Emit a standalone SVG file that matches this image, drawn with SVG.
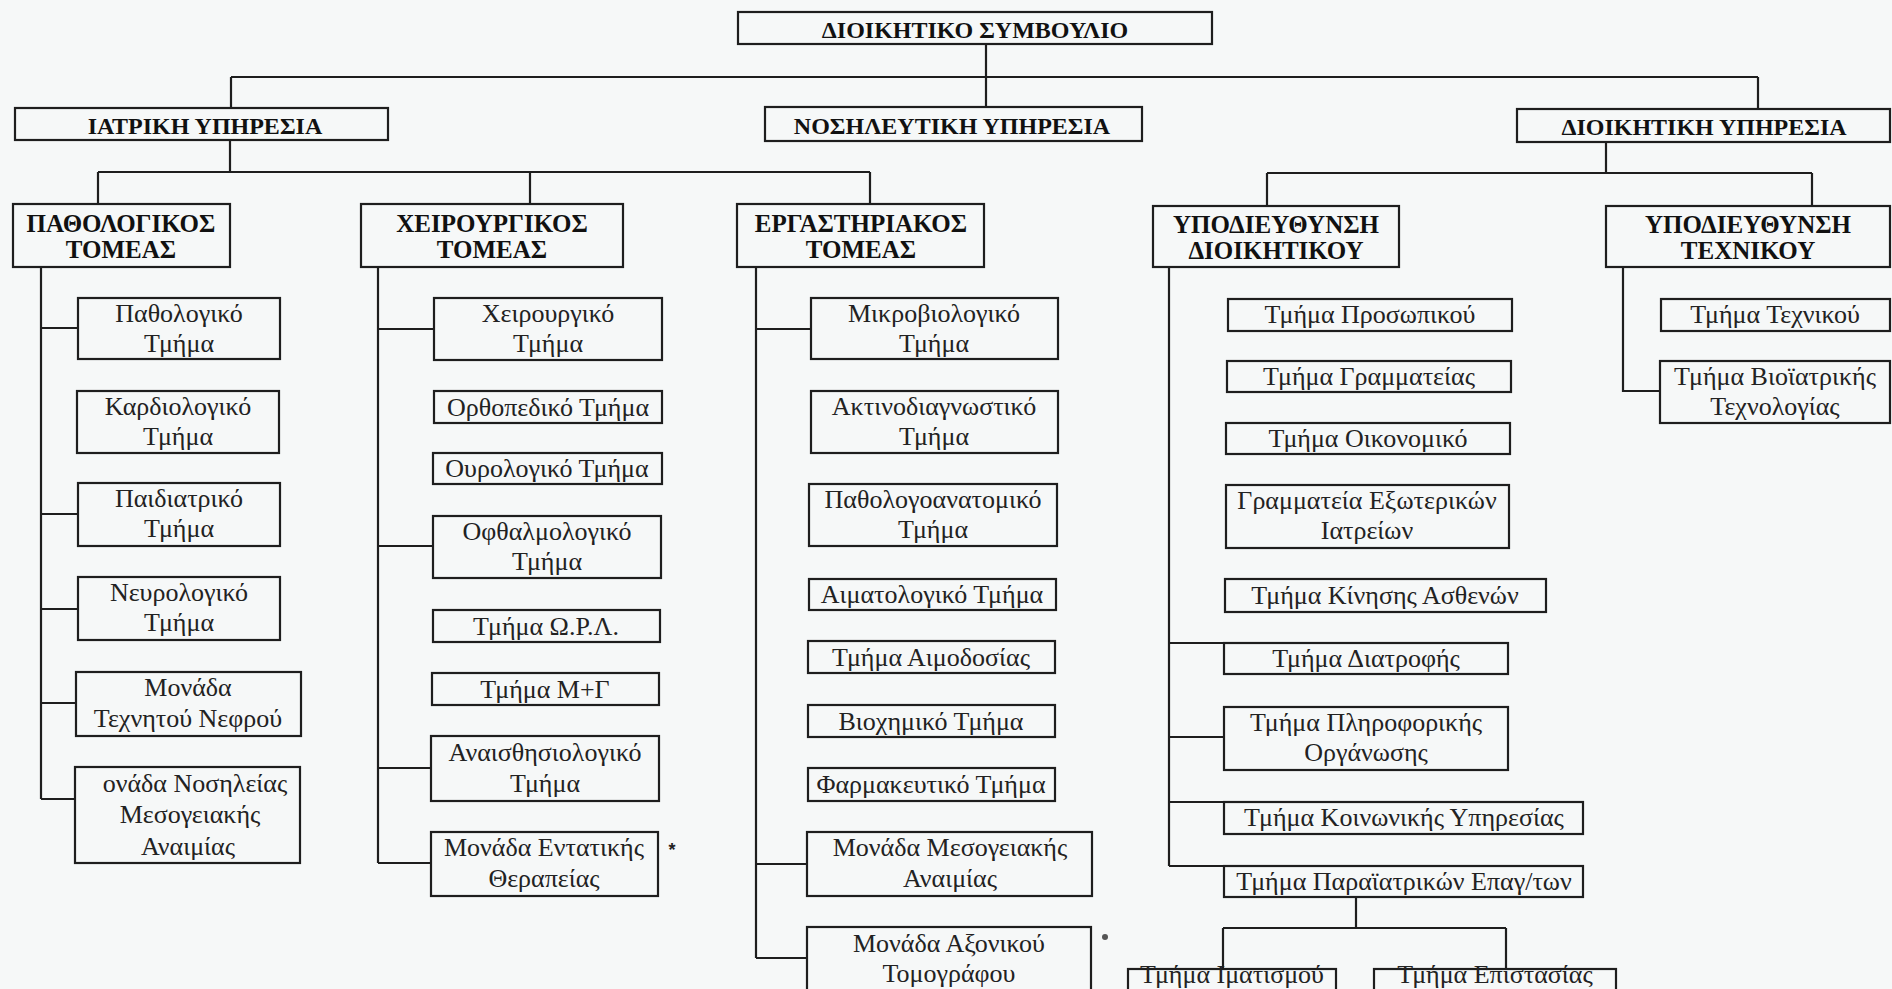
<svg xmlns="http://www.w3.org/2000/svg" width="1892" height="989" viewBox="0 0 1892 989">
<style>
.bg{fill:#f6f8f8}
.box{fill:none;stroke:#1e1e1e;stroke-width:2.2}
.ln{fill:none;stroke:#1e1e1e;stroke-width:2.2}
.h1{font-family:"Liberation Serif","DejaVu Serif",serif;font-weight:bold;font-size:24px;fill:#111;text-anchor:middle}
.h2{font-family:"Liberation Serif","DejaVu Serif",serif;font-weight:bold;font-size:25px;fill:#111;text-anchor:middle}
.t{font-family:"Liberation Serif","DejaVu Serif",serif;font-size:26px;fill:#222;text-anchor:middle}
</style>
<rect class="bg" x="0" y="0" width="1892" height="989"/>

<g id="connectors">
<path class="ln" d="M986,44V107 M231,77H1758 M231,77V108 M1758,77V109"/>
<path class="ln" d="M230,140V172 M98,172H870 M98,172V204 M530,172V204 M870,172V204"/>
<path class="ln" d="M1606,142V173 M1267,173H1812 M1267,173V206 M1812,173V206"/>
<path class="ln" d="M41,267V799 M41,328H78 M41,514H78 M41,609H78 M41,703H76 M41,799H75"/>
<path class="ln" d="M378,267V863 M378,329H434 M378,546H433 M378,768H431 M378,863H431"/>
<path class="ln" d="M756,267V958 M756,329H811 M756,864H807 M756,958H807"/>
<path class="ln" d="M1169,267V866 M1169,643H1224 M1169,737H1224 M1169,802H1224 M1169,866H1224"/>
<path class="ln" d="M1356,897V928 M1223,928H1506 M1223,928V969 M1506,928V969"/>
<path class="ln" d="M1623,267V391 H1660"/>
</g>

<g id="board"><rect class="box" x="738" y="12" width="474" height="32"/><text class="h1" x="975" y="37.5">ΔΙΟΙΚΗΤΙΚΟ ΣΥΜΒΟΥΛΙΟ</text></g>
<g id="iatriki"><rect class="box" x="15" y="108" width="373" height="32"/><text class="h1" x="205" y="133.5">ΙΑΤΡΙΚΗ ΥΠΗΡΕΣΙΑ</text></g>
<g id="nosileutiki"><rect class="box" x="765" y="107" width="377" height="34"/><text class="h1" x="952" y="133.5">ΝΟΣΗΛΕΥΤΙΚΗ ΥΠΗΡΕΣΙΑ</text></g>
<g id="dioikitiki"><rect class="box" x="1517" y="109" width="373" height="33"/><text class="h1" x="1704" y="135">ΔΙΟΙΚΗΤΙΚΗ ΥΠΗΡΕΣΙΑ</text></g>

<g id="pathologikos"><rect class="box" x="13" y="204" width="217" height="63"/><text class="h2" x="121" y="232">ΠΑΘΟΛΟΓΙΚΟΣ</text><text class="h2" x="121" y="258">ΤΟΜΕΑΣ</text></g>
<g id="xeirourgikos"><rect class="box" x="361" y="204" width="262" height="63"/><text class="h2" x="492" y="232">ΧΕΙΡΟΥΡΓΙΚΟΣ</text><text class="h2" x="492" y="258">ΤΟΜΕΑΣ</text></g>
<g id="ergastiriakos"><rect class="box" x="737" y="204" width="247" height="63"/><text class="h2" x="861" y="232">ΕΡΓΑΣΤΗΡΙΑΚΟΣ</text><text class="h2" x="861" y="258">ΤΟΜΕΑΣ</text></g>
<g id="ypod-dioikitikou"><rect class="box" x="1153" y="206" width="246" height="61"/><text class="h2" x="1276" y="233">ΥΠΟΔΙΕΥΘΥΝΣΗ</text><text class="h2" x="1276" y="259">ΔΙΟΙΚΗΤΙΚΟΥ</text></g>
<g id="ypod-texnikou"><rect class="box" x="1606" y="206" width="284" height="61"/><text class="h2" x="1748" y="233">ΥΠΟΔΙΕΥΘΥΝΣΗ</text><text class="h2" x="1748" y="259">ΤΕΧΝΙΚΟΥ</text></g>

<g id="a1"><rect class="box" x="78" y="298" width="202" height="61"/><text class="t" x="179" y="322">Παθολογικό</text><text class="t" x="179" y="352">Τμήμα</text></g>
<g id="a2"><rect class="box" x="77" y="391" width="202" height="62"/><text class="t" x="178" y="415">Καρδιολογικό</text><text class="t" x="178" y="445">Τμήμα</text></g>
<g id="a3"><rect class="box" x="78" y="483" width="202" height="63"/><text class="t" x="179" y="507">Παιδιατρικό</text><text class="t" x="179" y="537">Τμήμα</text></g>
<g id="a4"><rect class="box" x="78" y="577" width="202" height="63"/><text class="t" x="179" y="601">Νευρολογικό</text><text class="t" x="179" y="631">Τμήμα</text></g>
<g id="a5"><rect class="box" x="76" y="672" width="225" height="64"/><text class="t" x="188" y="696">Μονάδα</text><text class="t" x="188" y="727">Τεχνητού Νεφρού</text></g>
<g id="a6"><rect class="box" x="75" y="767" width="225" height="96"/><text class="t" x="195" y="792">ονάδα Νοσηλείας</text><text class="t" x="190" y="823">Μεσογειακής</text><text class="t" x="188" y="855">Αναιμίας</text></g>

<g id="b1"><rect class="box" x="434" y="298" width="228" height="62"/><text class="t" x="548" y="322">Χειρουργικό</text><text class="t" x="548" y="352">Τμήμα</text></g>
<g id="b2"><rect class="box" x="434" y="391" width="228" height="32"/><text class="t" x="548" y="416">Ορθοπεδικό Τμήμα</text></g>
<g id="b3"><rect class="box" x="433" y="453" width="229" height="31"/><text class="t" x="547" y="477">Ουρολογικό Τμήμα</text></g>
<g id="b4"><rect class="box" x="433" y="516" width="228" height="62"/><text class="t" x="547" y="540">Οφθαλμολογικό</text><text class="t" x="547" y="570">Τμήμα</text></g>
<g id="b5"><rect class="box" x="433" y="610" width="227" height="32"/><text class="t" x="546" y="635">Τμήμα Ω.Ρ.Λ.</text></g>
<g id="b6"><rect class="box" x="432" y="673" width="227" height="32"/><text class="t" x="545" y="698">Τμήμα Μ+Γ</text></g>
<g id="b7"><rect class="box" x="431" y="736" width="228" height="65"/><text class="t" x="545" y="761">Αναισθησιολογικό</text><text class="t" x="545" y="792">Τμήμα</text></g>
<g id="b8"><rect class="box" x="431" y="832" width="227" height="64"/><text class="t" x="544" y="856">Μονάδα Εντατικής</text><text class="t" x="544" y="887">Θεραπείας</text><text x="672" y="856" font-family="Liberation Sans, sans-serif" font-size="18" font-weight="bold" fill="#222" text-anchor="middle">*</text></g>

<g id="c1"><rect class="box" x="811" y="298" width="247" height="61"/><text class="t" x="934" y="322">Μικροβιολογικό</text><text class="t" x="934" y="352">Τμήμα</text></g>
<g id="c2"><rect class="box" x="811" y="391" width="247" height="62"/><text class="t" x="934" y="415">Ακτινοδιαγνωστικό</text><text class="t" x="934" y="445">Τμήμα</text></g>
<g id="c3"><rect class="box" x="809" y="484" width="248" height="62"/><text class="t" x="933" y="508">Παθολογοανατομικό</text><text class="t" x="933" y="538">Τμήμα</text></g>
<g id="c4"><rect class="box" x="809" y="579" width="247" height="31"/><text class="t" x="932" y="603">Αιματολογικό Τμήμα</text></g>
<g id="c5"><rect class="box" x="808" y="641" width="247" height="32"/><text class="t" x="931" y="666">Τμήμα Αιμοδοσίας</text></g>
<g id="c6"><rect class="box" x="808" y="705" width="247" height="32"/><text class="t" x="931" y="730">Βιοχημικό Τμήμα</text></g>
<g id="c7"><rect class="box" x="808" y="768" width="247" height="33"/><text class="t" x="931" y="793">Φαρμακευτικό Τμήμα</text></g>
<g id="c8"><rect class="box" x="807" y="832" width="285" height="64"/><text class="t" x="950" y="856">Μονάδα Μεσογειακής</text><text class="t" x="950" y="887">Αναιμίας</text></g>
<g id="c9"><rect class="box" x="807" y="927" width="284" height="70"/><text class="t" x="949" y="952">Μονάδα Αξονικού</text><text class="t" x="949" y="982">Τομογράφου</text></g>
<circle cx="1105" cy="937" r="3" fill="#555"/>

<g id="d1"><rect class="box" x="1228" y="299" width="284" height="32"/><text class="t" x="1370" y="323">Τμήμα Προσωπικού</text></g>
<g id="d2"><rect class="box" x="1227" y="361" width="284" height="31"/><text class="t" x="1369" y="385">Τμήμα Γραμματείας</text></g>
<g id="d3"><rect class="box" x="1226" y="423" width="284" height="31"/><text class="t" x="1368" y="447">Τμήμα Οικονομικό</text></g>
<g id="d4"><rect class="box" x="1226" y="485" width="283" height="63"/><text class="t" x="1367" y="509">Γραμματεία Εξωτερικών</text><text class="t" x="1367" y="539">Ιατρείων</text></g>
<g id="d5"><rect class="box" x="1225" y="579" width="321" height="33"/><text class="t" x="1385" y="604">Τμήμα Κίνησης Ασθενών</text></g>
<g id="d6"><rect class="box" x="1224" y="643" width="284" height="31"/><text class="t" x="1366" y="667">Τμήμα Διατροφής</text></g>
<g id="d7"><rect class="box" x="1224" y="707" width="284" height="63"/><text class="t" x="1366" y="731">Τμήμα Πληροφορικής</text><text class="t" x="1366" y="761">Οργάνωσης</text></g>
<g id="d8"><rect class="box" x="1224" y="802" width="359" height="32"/><text class="t" x="1404" y="826">Τμήμα Κοινωνικής Υπηρεσίας</text></g>
<g id="d9"><rect class="box" x="1224" y="866" width="359" height="31"/><text class="t" x="1404" y="890">Τμήμα Παραϊατρικών Επαγ/των</text></g>
<g id="e1"><rect class="box" x="1128" y="969" width="208" height="30"/><text class="t" x="1232" y="983">Τμήμα Ιματισμού</text></g>
<g id="e2"><rect class="box" x="1374" y="969" width="242" height="30"/><text class="t" x="1495" y="983">Τμήμα Επιστασίας</text></g>

<g id="f1"><rect class="box" x="1661" y="299" width="229" height="32"/><text class="t" x="1775" y="323">Τμήμα Τεχνικού</text></g>
<g id="f2"><rect class="box" x="1660" y="361" width="230" height="62"/><text class="t" x="1775" y="385">Τμήμα Βιοϊατρικής</text><text class="t" x="1775" y="415">Τεχνολογίας</text></g>
</svg>
